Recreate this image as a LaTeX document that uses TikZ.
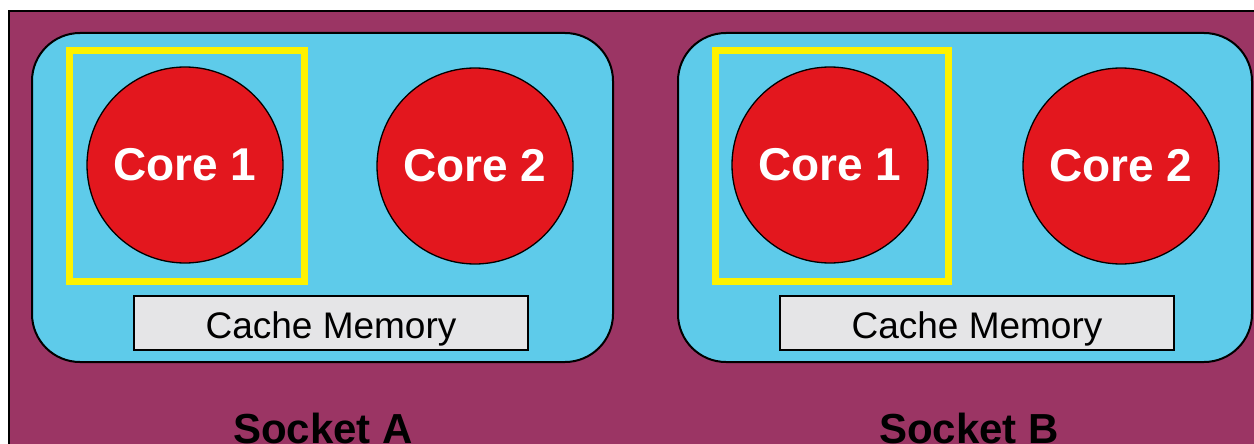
\documentclass[tikz,border=0pt]{standalone}
\usepackage{fontspec}
\setmainfont{Liberation Sans}
\definecolor{plum}{HTML}{9B3564}
\definecolor{sky}{HTML}{5ECBEA}
\definecolor{corered}{HTML}{E3171E}
\definecolor{cachegray}{HTML}{E5E5E7}
\tikzset{
  socketbox/.style={draw=black, line width=2pt, fill=sky, rounded corners=48pt},
  corenode/.style={circle, draw=black, line width=1.3pt, fill=corered, minimum size=196pt, inner sep=0pt,
    text=white, font=\fontsize{46}{46}\selectfont\bfseries},
  cachenode/.style={draw=black, line width=1.5pt, fill=cachegray, minimum width=394pt, minimum height=54pt,
    inner sep=0pt, text height=30pt, text depth=0pt, font=\fontsize{37}{37}\selectfont},
  focusbox/.style={draw=yellow, line width=7pt},
  sockettitle/.style={font=\fontsize{42}{42}\selectfont\bfseries, anchor=base}
}
\begin{document}
\begin{tikzpicture}[x=1pt, y=-1pt]
  \useasboundingbox (0,0) rectangle (1254,444);
  \begin{scope}
    \clip (0,0) rectangle (1254,444);
    % enclosing board
    \draw[line width=2pt, fill=plum] (9,11) rectangle (1270,460);
    % socket A
    \draw[socketbox] (32,33) rectangle (613,362);
    \node[corenode] (a1) at (185,165) {Core 1};
    \node[corenode] (a2) at (475,166) {Core 2};
    \draw[focusbox] (69.5,50.5) rectangle (304,281);
    \node[cachenode] (ac) at (331,323) {Cache Memory};
    \node[sockettitle] (as) at (323,443) {Socket A};
    % socket B
    \draw[socketbox] (678,33) rectangle (1252,362);
    \node[corenode] (b1) at (830,165) {Core 1};
    \node[corenode] (b2) at (1121,166) {Core 2};
    \draw[focusbox] (715,50.5) rectangle (948.5,281);
    \node[cachenode] (bc) at (977,323) {Cache Memory};
    \node[sockettitle] (bs) at (969,443) {Socket B};
  \end{scope}
\end{tikzpicture}
\end{document}
